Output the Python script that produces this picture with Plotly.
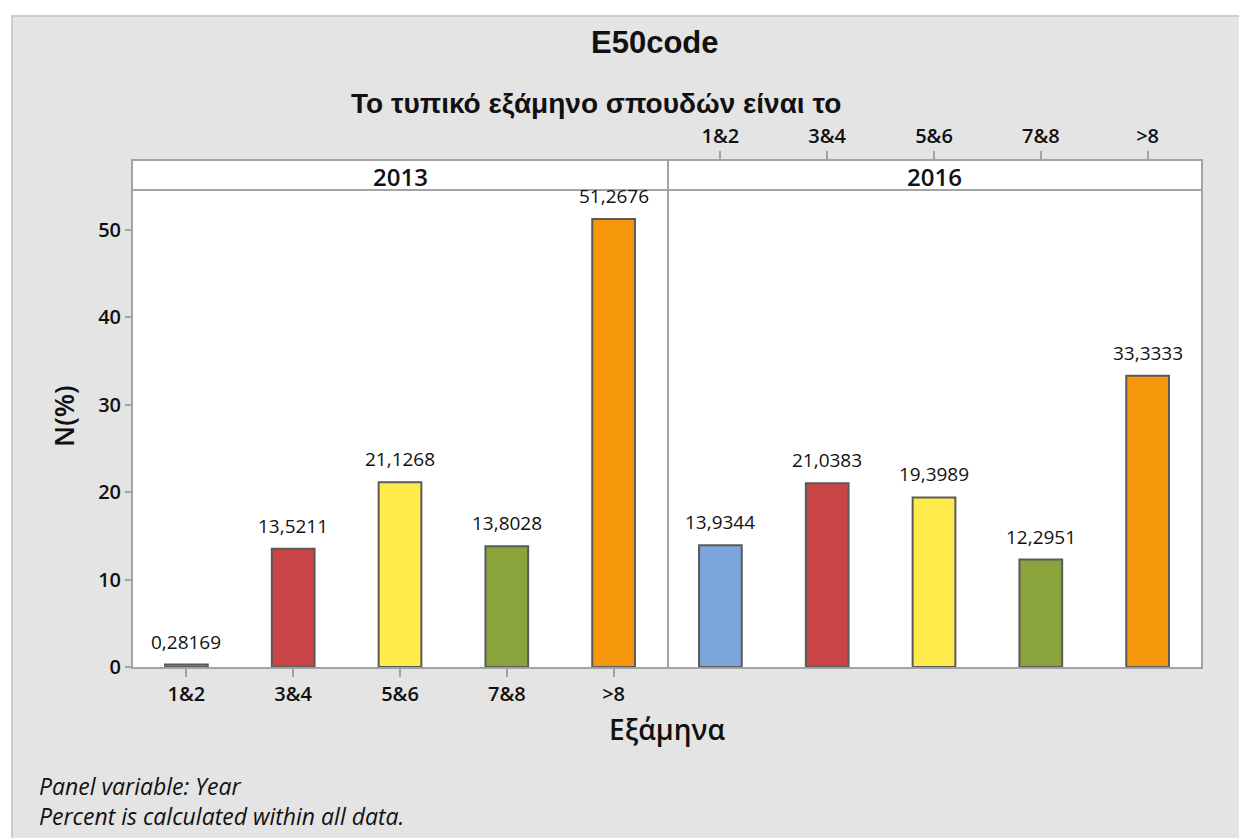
import plotly.graph_objects as go

# ---------------- data ----------------
categories = ["1&2", "3&4", "5&6", "7&8", ">8"]
years = ["2013", "2016"]
pct_2013 = [0.28169, 13.5211, 21.1268, 13.8028, 51.2676]
pct_2016 = [13.9344, 21.0383, 19.3989, 12.2951, 33.3333]
y_ticks = [0, 10, 20, 30, 40, 50]
bar_colors = ["#7ba6d9", "#c84445", "#ffea4b", "#8aa43b", "#f5960b"]

# ---------------- layout helpers ----------------
OFF = 8  # page body margin of the html page
W, H = 1247 - OFF, 838 - OFF
L, T = 133 - OFF, 161 - OFF
PLOT_BOTTOM = 667 - OFF
PLOT_RIGHT = 1201 - OFF
R, B = W - PLOT_RIGHT, H - PLOT_BOTTOM
PW, PH = W - L - R, H - T - B


def px(x):
    """screen x -> paper x"""
    return (x - OFF - L) / PW


def py(y):
    """screen y -> paper y"""
    return (PLOT_BOTTOM - (y - OFF)) / PH


FONT = "Open Sans"
LINE = "#a3a3a3"
BG = "#e4e4e4"
INK = "#111111"
tick_font = dict(family=FONT, size=20, color=INK, weight=600)
label_font = dict(family=FONT, size=19, color=INK)

fig = go.Figure()
series = [pct_2013, pct_2016]
for i, (yr, vals) in enumerate(zip(years, series)):
    xa = "x" if i == 0 else "x2"
    ya = "y" if i == 0 else "y2"
    fig.add_trace(go.Bar(
        x=categories, y=vals, xaxis=xa, yaxis=ya,
        marker=dict(color=bar_colors, line=dict(color="#5a5a5a", width=2)),
        width=0.4, showlegend=False, name=yr,
    ))
    for c, v in zip(categories, vals):
        fig.add_annotation(
            x=c, y=v, xref=xa, yref=ya, text=str(v).replace(".", ","),
            showarrow=False, xanchor="center", yanchor="bottom", yshift=8,
            font=label_font,
        )

axis_common = dict(
    type="category", range=[-0.5, 4.5], showgrid=False, zeroline=False,
    showline=True, linecolor=LINE, linewidth=2, mirror=True,
    ticks="outside", ticklen=8, tickwidth=2, tickcolor=LINE,
    tickfont=tick_font, categoryorder="array", categoryarray=categories,
)
yaxis_common = dict(
    range=[0, 57.9], showgrid=False, zeroline=False,
    showline=True, linecolor=LINE, linewidth=2,
)

fig.update_layout(
    width=W, height=H,
    margin=dict(l=L, r=R, t=T, b=B, pad=0),
    paper_bgcolor=BG, plot_bgcolor="white",
    xaxis=dict(domain=[0, 0.5], anchor="y", side="bottom", **axis_common),
    xaxis2=dict(domain=[0.5, 1], anchor="y2", side="top", **axis_common),
    yaxis=dict(domain=[0, 1], anchor="x", tickvals=y_ticks, mirror=True,
               ticks="outside", ticklen=6, tickwidth=2, tickcolor=LINE,
               tickfont=tick_font, **yaxis_common),
    yaxis2=dict(domain=[0, 1], anchor="x2", side="right", mirror=False,
                showticklabels=False, ticks="", **yaxis_common),
)

shapes = [
    # white outer margins
    dict(type="rect", xref="paper", yref="paper", x0=px(OFF), x1=px(11), y0=py(H + OFF), y1=py(OFF),
         fillcolor="white", line=dict(width=0), layer="below"),
    dict(type="rect", xref="paper", yref="paper", x0=px(OFF), x1=px(W + OFF), y0=py(15), y1=py(OFF),
         fillcolor="white", line=dict(width=0), layer="below"),
    # border of gray frame
    dict(type="line", xref="paper", yref="paper", x0=px(12), x1=px(12), y0=py(H + OFF), y1=py(15),
         line=dict(color="#cdcdcd", width=2)),
    dict(type="line", xref="paper", yref="paper", x0=px(11), x1=px(W + OFF), y0=py(16), y1=py(16),
         line=dict(color="#cdcdcd", width=2)),
    # strip bottom line
    dict(type="line", xref="paper", yref="paper", x0=0, x1=1, y0=py(190), y1=py(190),
         line=dict(color=LINE, width=2)),
]
fig.update_layout(shapes=shapes)


def note(x, y, text, font, **kw):
    fig.add_annotation(x=x, y=y, xref="paper", yref="paper", text=text,
                       showarrow=False, xanchor=kw.pop("xanchor", "center"),
                       yanchor="middle", font=font, **kw)


# strip labels
for i, yr in enumerate(years):
    note(0.25 + 0.5 * i, py(176), yr, dict(family=FONT, size=24, color=INK, weight=600))

# titles
note(px(655), py(42), "<b>E50code</b>", dict(family="Liberation Sans", size=31, color=INK))
note(px(596), py(103), "<b>Το τυπικό εξάμηνο σπουδών είναι το</b>",
     dict(family="Liberation Sans", size=28, color=INK))
note(px(667), py(729), "Εξάμηνα", dict(family=FONT, size=28, color=INK, weight=600))
note(px(63), py(416), "N(%)", dict(family=FONT, size=27, color=INK, weight=600), textangle=-90)
# footnotes
note(px(37), py(786), "<i>Panel variable: Year</i>",
     dict(family=FONT, size=23, color=INK), xanchor="left")
note(px(37), py(816), "<i>Percent is calculated within all data.</i>",
     dict(family=FONT, size=23, color=INK), xanchor="left")

fig.write_html("out.html")
